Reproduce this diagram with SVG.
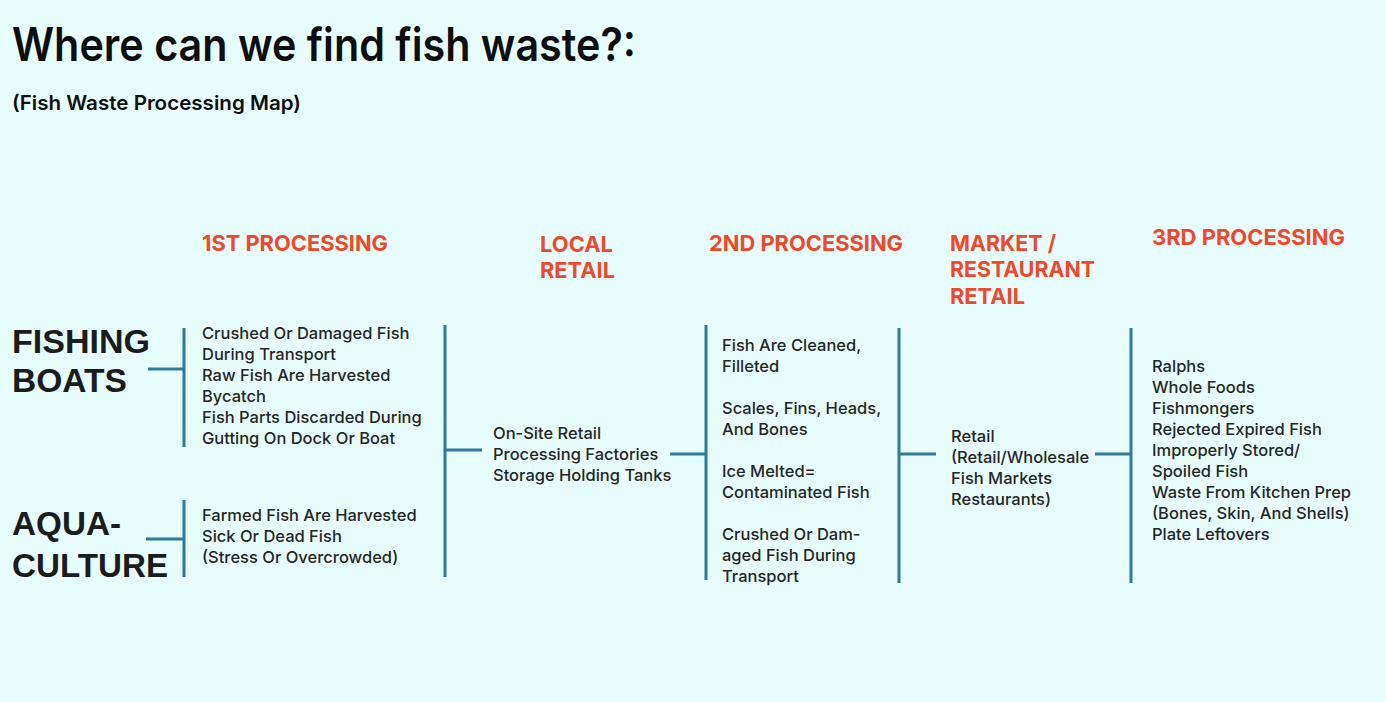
<svg xmlns="http://www.w3.org/2000/svg" width="1386" height="702" viewBox="0 0 1386 702">
<style>
.title{font-family:Inter,"Liberation Sans",sans-serif;font-weight:600;fill:#0E0E0E;}
.hdr{font-family:Inter,"Liberation Sans",sans-serif;font-weight:700;font-size:22px;fill:#F0482B;}
.big{font-family:"Liberation Sans",Arial,sans-serif;font-weight:700;font-size:33px;fill:#1C1C1C;}
.body{font-family:Inter,"Liberation Sans",sans-serif;font-weight:500;font-size:16.5px;fill:#262626;}
.ln{stroke:#2F7B9C;stroke-width:3;fill:none;}
</style>
<rect width="1386" height="702" fill="#E7FDFB"/>
<g id="title">
<text class="title" x="12" y="61" font-size="46" textLength="624" lengthAdjust="spacingAndGlyphs">Where can we find fish waste?:</text>
<text class="title" x="12" y="110" font-size="20" textLength="289" lengthAdjust="spacingAndGlyphs">(Fish Waste Processing Map)</text>
</g>
<g id="headers">
<text class="hdr" x="202" y="251" textLength="186" lengthAdjust="spacingAndGlyphs">1ST PROCESSING</text>
<text class="hdr" x="540" y="252" textLength="73" lengthAdjust="spacingAndGlyphs">LOCAL</text>
<text class="hdr" x="540" y="278" textLength="75" lengthAdjust="spacingAndGlyphs">RETAIL</text>
<text class="hdr" x="709" y="251" textLength="194" lengthAdjust="spacingAndGlyphs">2ND PROCESSING</text>
<text class="hdr" x="950" y="251" textLength="106" lengthAdjust="spacingAndGlyphs">MARKET /</text>
<text class="hdr" x="950" y="277" textLength="145" lengthAdjust="spacingAndGlyphs">RESTAURANT</text>
<text class="hdr" x="950" y="304" textLength="75" lengthAdjust="spacingAndGlyphs">RETAIL</text>
<text class="hdr" x="1152" y="245" textLength="193" lengthAdjust="spacingAndGlyphs">3RD PROCESSING</text>
</g>
<g id="fishing-boats">
<text class="big" x="12" y="353" textLength="138" lengthAdjust="spacingAndGlyphs">FISHING</text>
<text class="big" x="12" y="392" textLength="115" lengthAdjust="spacingAndGlyphs">BOATS</text>
</g>
<g id="aquaculture">
<text class="big" x="12" y="535" textLength="109" lengthAdjust="spacingAndGlyphs">AQUA-</text>
<text class="big" x="12" y="577" textLength="156" lengthAdjust="spacingAndGlyphs">CULTURE</text>
</g>
<g id="first-processing-boats">
<text class="body" x="202" y="339">Crushed Or Damaged Fish</text>
<text class="body" x="202" y="360">During Transport</text>
<text class="body" x="202" y="381">Raw Fish Are Harvested</text>
<text class="body" x="202" y="402">Bycatch</text>
<text class="body" x="202" y="423">Fish Parts Discarded During</text>
<text class="body" x="202" y="444">Gutting On Dock Or Boat</text>
</g>
<g id="first-processing-aqua">
<text class="body" x="202" y="521">Farmed Fish Are Harvested</text>
<text class="body" x="202" y="542">Sick Or Dead Fish</text>
<text class="body" x="202" y="563">(Stress Or Overcrowded)</text>
</g>
<g id="local-retail">
<text class="body" x="493" y="439">On-Site Retail</text>
<text class="body" x="493" y="460">Processing Factories</text>
<text class="body" x="493" y="481">Storage Holding Tanks</text>
</g>
<g id="second-processing">
<text class="body" x="722" y="351">Fish Are Cleaned,</text>
<text class="body" x="722" y="372">Filleted</text>
<text class="body" x="722" y="414">Scales, Fins, Heads,</text>
<text class="body" x="722" y="435">And Bones</text>
<text class="body" x="722" y="477">Ice Melted=</text>
<text class="body" x="722" y="498">Contaminated Fish</text>
<text class="body" x="722" y="540">Crushed Or Dam-</text>
<text class="body" x="722" y="561">aged Fish During</text>
<text class="body" x="722" y="582">Transport</text>
</g>
<g id="market-retail">
<text class="body" x="951" y="442">Retail</text>
<text class="body" x="951" y="463">(Retail/Wholesale</text>
<text class="body" x="951" y="484">Fish Markets</text>
<text class="body" x="951" y="505">Restaurants)</text>
</g>
<g id="third-processing">
<text class="body" x="1152" y="372">Ralphs</text>
<text class="body" x="1152" y="393">Whole Foods</text>
<text class="body" x="1152" y="414">Fishmongers</text>
<text class="body" x="1152" y="435">Rejected Expired Fish</text>
<text class="body" x="1152" y="456">Improperly Stored/</text>
<text class="body" x="1152" y="477">Spoiled Fish</text>
<text class="body" x="1152" y="498">Waste From Kitchen Prep</text>
<text class="body" x="1152" y="519">(Bones, Skin, And Shells)</text>
<text class="body" x="1152" y="540">Plate Leftovers</text>
</g>
<g id="connectors" class="ln">
<path class="ln" d="M148 369H184M184 328V447"/>
<path class="ln" d="M146 539H184M184 500V577"/>
<path class="ln" d="M445 325V577M445 450H482"/>
<path class="ln" d="M670 454H706M706 325V580"/>
<path class="ln" d="M899 328V583M899 454H936"/>
<path class="ln" d="M1095 454H1131M1131 328V583"/>
</g>
</svg>
